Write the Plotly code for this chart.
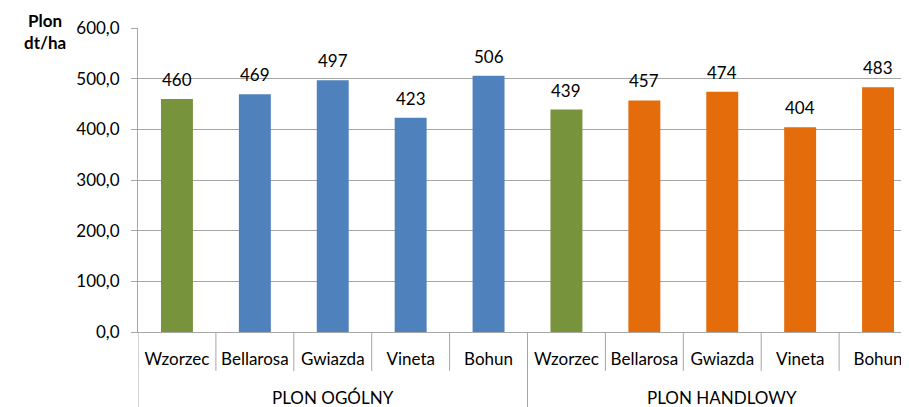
import plotly.graph_objects as go

groups = ["PLON OGÓLNY", "PLON HANDLOWY"]
varieties = ["Wzorzec", "Bellarosa", "Gwiazda", "Vineta", "Bohun",
             "Wzorzec", "Bellarosa", "Gwiazda", "Vineta", "Bohun"]
values = [460, 469, 497, 423, 506, 439, 457, 474, 404, 483]
colors = ["#77933C", "#4F81BD", "#4F81BD", "#4F81BD", "#4F81BD",
          "#77933C", "#E46C0A", "#E46C0A", "#E46C0A", "#E46C0A"]
y_ticks = [0, 100, 200, 300, 400, 500, 600]

FONT = "Lato"
FS = 17
GRID = "#A6A6A6"

n = len(values)
xpos = list(range(n))
per_group = n // len(groups)

fig = go.Figure(go.Bar(
    x=xpos,
    y=values,
    marker=dict(color=colors, line=dict(width=0)),
    width=0.41,
    hoverinfo="x+y",
))

# value labels above bars
for i, v in enumerate(values):
    fig.add_annotation(x=i, y=v, xref="x", yref="y", text=str(v),
                       showarrow=False, yanchor="bottom", yshift=7,
                       font=dict(family=FONT, size=FS, color="#000000"))

# group labels
for g, name in enumerate(groups):
    center = g * per_group + (per_group - 1) / 2
    fig.add_annotation(x=center, y=-0.217, xref="x", yref="paper", text=name,
                       showarrow=False, yanchor="middle",
                       font=dict(family=FONT, size=FS, color="#000000"))

# category dividers
for k in range(n + 1):
    b = k - 0.5
    is_group = (k % per_group == 0)
    fig.add_shape(type="line", xref="x", yref="paper", x0=b, x1=b,
                  y0=0, y1=-0.27 if is_group else -0.128,
                  line=dict(color=GRID, width=1))

fig.update_layout(
    width=909, height=407,
    margin=dict(l=130, r=0, t=20, b=83),
    paper_bgcolor="white", plot_bgcolor="white",
    separators=",.",
    showlegend=False,
    font=dict(family=FONT, size=FS, color="#000000"),
    yaxis=dict(
        range=[0, 600], tickvals=y_ticks, tickformat=".1f",
        showgrid=True, gridcolor=GRID, gridwidth=1,
        showline=True, linecolor=GRID, linewidth=1,
        ticks="outside", ticklen=6, tickcolor=GRID,
        ticklabelstandoff=8,
        tickfont=dict(family=FONT, size=FS, color="#000000"),
        zeroline=False, automargin=False,
    ),
    xaxis=dict(
        range=[-0.5, 9.5],
        tickvals=xpos, ticktext=varieties,
        showline=True, linecolor=GRID, linewidth=1,
        ticks="", showgrid=False, zeroline=False,
        ticklabelstandoff=12,
        tickfont=dict(family=FONT, size=FS, color="#000000"),
        automargin=False,
    ),
)
fig.add_annotation(text="<b>Plon<br>dt/ha</b>", xref="paper", yref="paper",
                   x=-0.119, y=0.99, xanchor="center", yanchor="middle",
                   showarrow=False, font=dict(family=FONT, size=FS, color="#000000"))

fig.write_html("out.html")
